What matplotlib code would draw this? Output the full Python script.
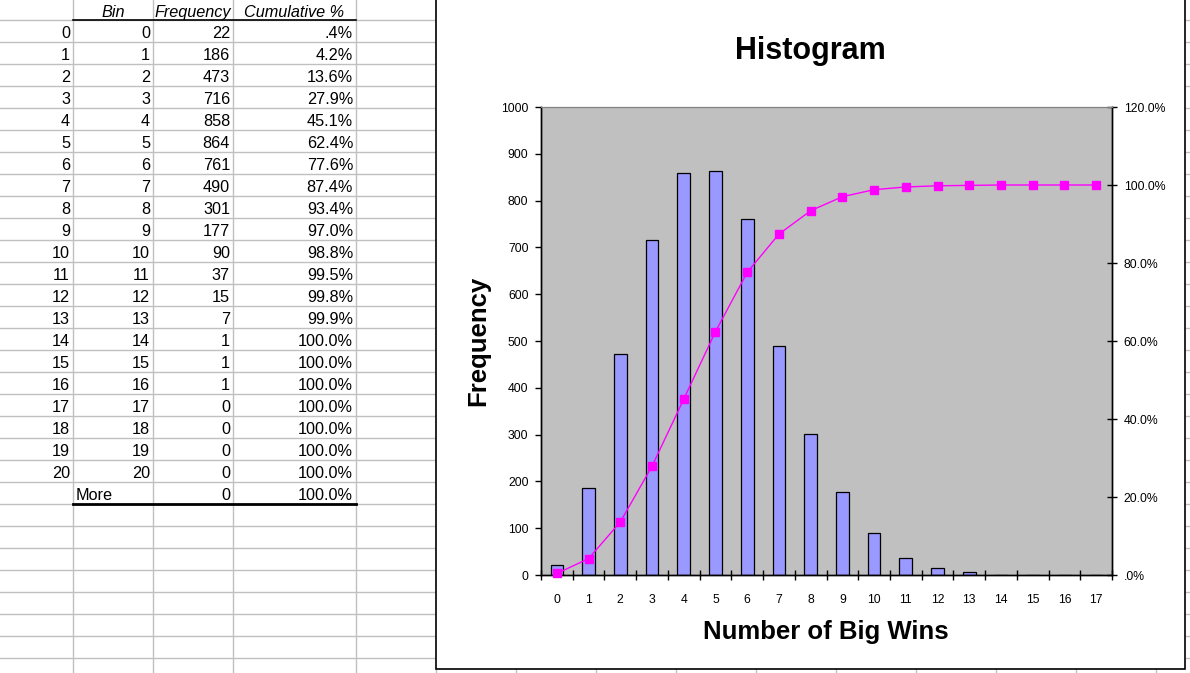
import numpy as np
import matplotlib
matplotlib.use("Agg")
import matplotlib.pyplot as plt
from matplotlib.patches import Rectangle

plt.rcParams['font.family'] = ['Liberation Sans', 'DejaVu Sans']

# table data (spreadsheet on the left)
row_ids = list(range(21))
bin_labels = [str(i) for i in range(21)] + ['More']
freq = [22, 186, 473, 716, 858, 864, 761, 490, 301, 177, 90, 37, 15, 7, 1, 1, 1, 0, 0, 0, 0, 0]
cum_pct = [0.4, 4.2, 13.6, 27.9, 45.1, 62.4, 77.6, 87.4, 93.4, 97.0, 98.8, 99.5, 99.8, 99.9,
           100.0, 100.0, 100.0, 100.0, 100.0, 100.0, 100.0, 100.0]
headers = ['Bin', 'Frequency', 'Cumulative %']

# chart shows bins 0..17
n_chart = 18
chart_bins = list(range(n_chart))
chart_freq = freq[:n_chart]
chart_cum = cum_pct[:n_chart]


def pct_fmt(v):
    s = '{:.1f}%'.format(v)
    if s.startswith('0'):
        s = s[1:]
    return s


W, H = 1190, 673
fig = plt.figure(figsize=(W / 100, H / 100), dpi=100)
fig.patch.set_facecolor('white')

# background axes in pixel coordinates for the sheet
bg = fig.add_axes([0, 0, 1, 1])
bg.set_xlim(0, W)
bg.set_ylim(H, 0)
bg.axis('off')

grid_col = '#C0C0C0'
col_x = [73, 153, 233, 356, 436, 516, 596, 676, 756, 836, 916, 996, 1076, 1156]
for x in col_x:
    bg.plot([x, x], [0, H], color=grid_col, lw=1, zorder=1)
row_y = [20 + 22 * k for k in range(31)]
for y in row_y:
    bg.plot([0, W], [y, y], color=grid_col, lw=1, zorder=1)

# header + borders
bg.plot([73, 356], [20, 20], color='black', lw=1.2, zorder=2)
bg.plot([73, 356], [504, 504], color='black', lw=2, zorder=2)
hdr_x = [113, 193, 294]
for hx, h in zip(hdr_x, headers):
    bg.text(hx, 11, h, ha='center', va='center_baseline', style='italic', fontsize=11.7)

fs = 11.7
for k in range(22):
    y = 32 + 22 * k
    if k < 21:
        bg.text(70, y, str(row_ids[k]), ha='right', va='center_baseline', fontsize=fs)
        bg.text(150, y, bin_labels[k], ha='right', va='center_baseline', fontsize=fs)
    else:
        bg.text(76, y, bin_labels[k], ha='left', va='center_baseline', fontsize=fs)
    bg.text(230, y, str(freq[k]), ha='right', va='center_baseline', fontsize=fs)
    bg.text(353, y, pct_fmt(cum_pct[k]), ha='right', va='center_baseline', fontsize=fs)

# chart area
bg.add_patch(Rectangle((436, -5), 749, 674, facecolor='white', edgecolor='black', lw=1.2, zorder=5))
bg.text(810, 47, 'Histogram', ha='center', va='center_baseline', fontsize=22, fontweight='bold', zorder=6)
bg.text(478, 341, 'Frequency', ha='center', va='center', rotation=90, fontsize=18.5,
        fontweight='bold', zorder=6)
bg.text(826, 630, 'Number of Big Wins', ha='center', va='center_baseline', fontsize=18.5,
        fontweight='bold', zorder=6)

# plot area
pl, pr, pt, pb = 541, 1112, 107, 575
ax = fig.add_axes([pl / W, 1 - pb / H, (pr - pl) / W, (pb - pt) / H])
ax.set_facecolor('#C0C0C0')
ax.bar(chart_bins, chart_freq, width=0.4, color='#9999FF', edgecolor='black', linewidth=0.9, zorder=2)
ax.set_xlim(-0.5, n_chart - 0.5)
ax.set_ylim(0, 1000)
ax.set_yticks(np.arange(0, 1001, 100))
ax.set_xticks(chart_bins)
ax.set_xticks(np.arange(-0.5, n_chart, 1), minor=True)
ax.tick_params(axis='x', which='major', length=0, pad=14, labelsize=8.8)
ax.tick_params(axis='x', which='minor', length=7, direction='inout', width=1)
ax.tick_params(axis='y', direction='out', length=4, width=1, pad=5, labelsize=8.8)

ax2 = ax.twinx()
ax2.plot(chart_bins, chart_cum, color='#FF00FF', lw=1, marker='s', markersize=5.5,
         markeredgecolor='#FF00FF', zorder=3, clip_on=False)
ax2.set_ylim(0, 120)
ax2.set_yticks(np.arange(0, 121, 20))
ax2.set_yticklabels([pct_fmt(v) for v in np.arange(0, 121, 20)])
ax2.tick_params(axis='y', direction='inout', length=7, width=1, pad=5, labelsize=8.8)

for a in (ax, ax2):
    a.spines['top'].set_color('#808080')
    for s in ('left', 'right', 'bottom'):
        a.spines[s].set_color('black')
        a.spines[s].set_linewidth(1)

fig.savefig('out.png', dpi=100)
